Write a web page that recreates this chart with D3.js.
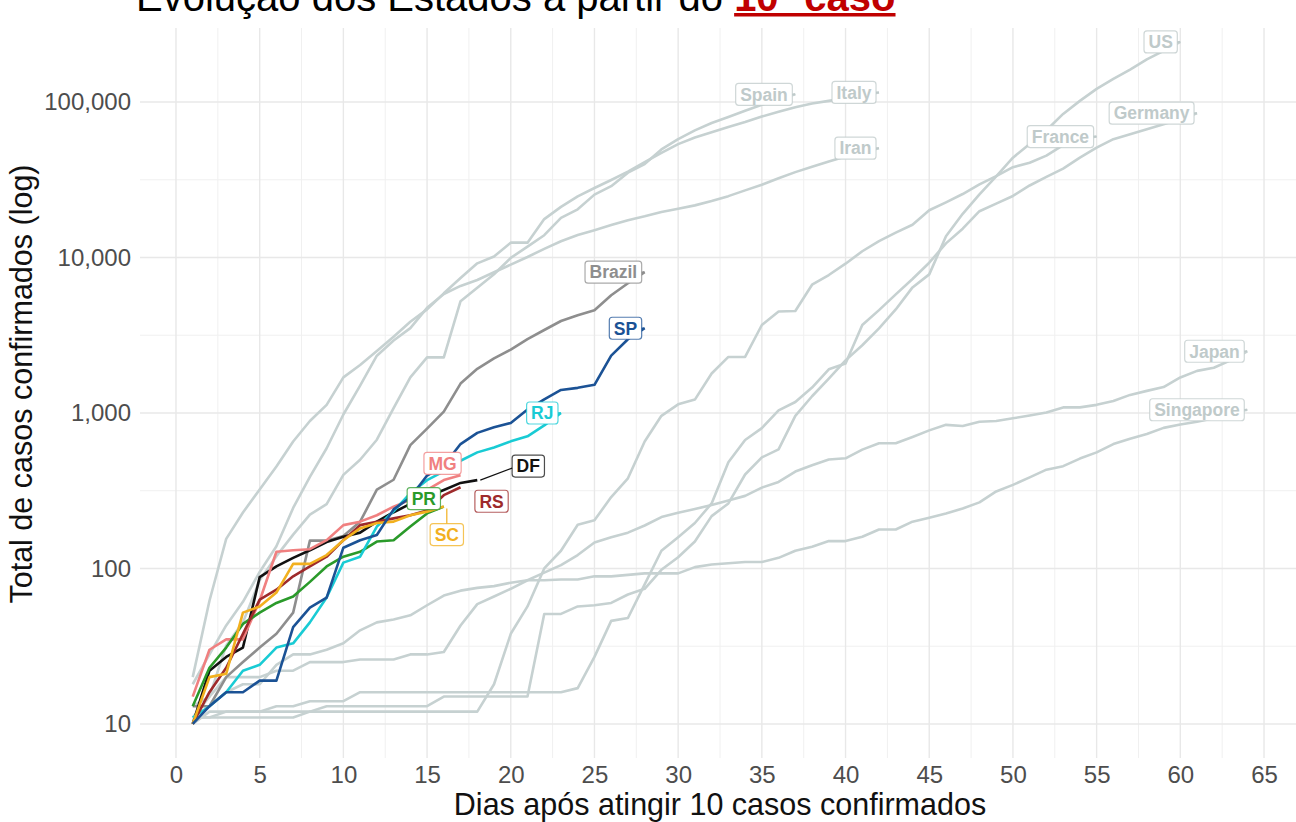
<!DOCTYPE html>
<html lang="pt">
<head>
<meta charset="UTF-8">
<script src="https://d3js.org/d3.v7.min.js"></script>
<style>
  body { margin: 0; background: #fff; }
  svg { display: block; font-family: "Liberation Sans", Arial, sans-serif; }
</style>
</head>
<body>
<svg id="chart" width="1296" height="822"></svg>
<script>
// casos confirmados acumulados, dia 1 = primeiro dia com 10+ casos
var usCases = [11,11,12,12,12,12,12,12,13,13,13,13,13,13,13,15,15,15,15,15,15,51,51,57,58,60,68,
  74,98,118,149,217,262,402,518,583,959,1281,1663,2179,2727,3499,4632,6421,7786,13680,19101,
  25493,33276,43847,53740,65778,83836,101657,121478,140886,161807,188172,213242,243622];
var spainCases = [13,15,32,45,84,120,165,222,259,400,500,673,1073,1695,2277,2277,5232,6391,7798,
  9942,11748,13910,17963,20410,25374,28768,35136,39885,49515,57786,65719,73235,80110,87956,
  95923,104118,112065];
var italyCases = [20,62,155,229,322,453,655,888,1128,1694,2036,2502,3089,3858,4636,5883,7375,
  9172,10149,12462,12462,17660,21157,24747,27980,31506,35713,41035,47021,53578,59138,63927,
  69176,74386,80589,86498,92472,97689,101739,105792,110574,115242];
var iranCases = [18,28,43,61,95,139,245,388,593,978,1501,2336,2922,3513,4747,5823,6566,7161,
  8042,9000,10075,11364,12729,13938,14991,16169,17361,18407,19644,20610,21638,23049,24811,
  27017,29406,32332,35408,38309,41495,44605,47593,50468];
var franceCases = [11,11,11,11,11,11,11,12,12,12,12,12,12,12,12,12,12,12,18,38,57,100,
  130,191,204,288,380,656,959,1136,1219,1794,2293,2293,3681,4496,4532,6683,7715,9124,10970,
  12758,14463,16243,20123,22622,25600,29551,33402,38105,40708,45170,52827,57749,59929];
var germanyCases = [10,12,12,12,12,13,13,14,14,14,16,16,16,16,16,16,16,16,16,16,16,16,16,
  17,27,46,48,79,130,159,196,262,482,670,799,1040,1176,1457,1908,2078,3675,4585,5795,7272,
  9257,12327,15320,19848,22213,24873,29056,32986,37323,43938,50871,57695,62095,66885,71808,
  77872,84794];
var japanCases = [11,15,20,20,20,22,22,25,25,25,26,26,26,28,28,29,43,59,66,74,84,94,105,122,
  147,159,170,189,214,228,241,256,274,293,331,360,420,461,502,511,581,639,639,701,773,839,
  825,878,889,924,963,1007,1086,1086,1128,1193,1307,1387,1468,1693,1866,1953,2178,2495];
var singaporeCases = [10,13,16,18,18,24,28,28,30,33,40,45,47,50,58,67,72,75,77,81,84,84,85,
  85,89,89,91,93,93,93,102,106,108,110,110,117,130,138,150,150,160,178,178,200,212,226,243,
  266,313,345,385,432,455,509,558,631,683,732,802,844,879,926,1000,1049];
var brazilCases = [13,13,20,25,31,38,52,151,151,162,200,321,372,621,793,1021,1546,1924,2247,
  2554,2985,3417,3904,4256,4579,5717,6836,8044];

var dfCases = [10,22,27,31,88,103,117,131,148,160,170,200,230,260,290,320,355,370];
var mgCases = [15,30,35,35,62,128,131,133,152,190,200,220,250,276,320,370,397];
var prCases = [13,23,31,44,52,60,66,82,103,119,128,149,152,186,226,250];
var rjCases = [11,13,16,22,24,31,33,45,65,109,119,186,233,305,370,421,493,558,600,657,708,832,1000];
var rsCases = [10,16,23,38,63,73,89,103,119,152,190,200,210,220,236,296,333];
var scCases = [10,20,21,52,57,70,107,107,122,152,181,196,200,220,232,250];
var spCases = [10,13,16,16,19,19,42,56,65,136,152,164,240,286,396,459,631,745,810,862,1052,
  1223,1406,1451,1517,2339,2981,3506];

var countries = [
  { name: "US", values: usCases },
  { name: "Spain", values: spainCases },
  { name: "Italy", values: italyCases },
  { name: "Iran", values: iranCases },
  { name: "France", values: franceCases },
  { name: "Germany", values: germanyCases },
  { name: "Japan", values: japanCases },
  { name: "Singapore", values: singaporeCases },
  { name: "Brazil", values: brazilCases }
];
var states = [
  { name: "DF", values: dfCases, color: "#111111" },
  { name: "MG", values: mgCases, color: "#f08080" },
  { name: "PR", values: prCases, color: "#2a9a2a" },
  { name: "RJ", values: rjCases, color: "#19cbd4" },
  { name: "RS", values: rsCases, color: "#9e2a2b" },
  { name: "SC", values: scCases, color: "#f2b01e" },
  { name: "SP", values: spCases, color: "#1b5295" }
];

var xTicks = d3.range(0, 66, 5);
var yTicks = [10, 100, 1000, 10000, 100000];

// rótulos repelidos (deslocamento em px a partir do último ponto)
var labelOffsets = {
  MG: [-18, -12],
  DF: [51, -14],
  RS: [31, 14],
  PR: [-20, -8],
  SC: [3, 28]
};
var labelSegments = { DF: "left", SC: "top" };

var greyLine = "#c6d1d1";
var greyText = "#bfcaca";
var brazilColor = "#8e8e8e";

var svg = d3.select("#chart");
var plotL = 140, plotR = 1300, plotT = 28, plotB = 758;

var x = d3.scaleLinear().domain([-2.15, 67.15]).range([plotL, plotR]);
var y = d3.scaleLog().domain([Math.pow(10, 0.781), Math.pow(10, 5.476)]).range([plotB, plotT]);

// grade
var grid = svg.append("g");
var xMinor = d3.range(2.5, 67, 5);
var yMinor = [1.5, 2.5, 3.5, 4.5].map(function (e) { return Math.pow(10, e); });

grid.selectAll("line.xminor").data(xMinor).enter().append("line")
  .attr("x1", function (d) { return x(d); }).attr("x2", function (d) { return x(d); })
  .attr("y1", plotT).attr("y2", plotB)
  .attr("stroke", "#f0f0f0").attr("stroke-width", 1);
grid.selectAll("line.yminor").data(yMinor).enter().append("line")
  .attr("x1", plotL).attr("x2", plotR)
  .attr("y1", function (d) { return y(d); }).attr("y2", function (d) { return y(d); })
  .attr("stroke", "#f0f0f0").attr("stroke-width", 1);
grid.selectAll("line.xmajor").data(xTicks).enter().append("line")
  .attr("x1", function (d) { return x(d); }).attr("x2", function (d) { return x(d); })
  .attr("y1", plotT).attr("y2", plotB)
  .attr("stroke", "#e8e8e8").attr("stroke-width", 1.4);
grid.selectAll("line.ymajor").data(yTicks).enter().append("line")
  .attr("x1", plotL).attr("x2", plotR)
  .attr("y1", function (d) { return y(d); }).attr("y2", function (d) { return y(d); })
  .attr("stroke", "#e8e8e8").attr("stroke-width", 1.4);

// eixos
var xAxis = svg.append("g")
  .attr("transform", "translate(0," + 762 + ")")
  .call(d3.axisBottom(x).tickValues(xTicks).tickSize(0).tickPadding(4));
xAxis.select(".domain").remove();
xAxis.selectAll("text").attr("font-size", 24).attr("fill", "#4d4d4d")
  .attr("font-family", "Liberation Sans, Arial, sans-serif");

var yAxis = svg.append("g")
  .attr("transform", "translate(" + 137 + ",0)")
  .call(d3.axisLeft(y).tickValues(yTicks).tickFormat(d3.format(",")).tickSize(0).tickPadding(6));
yAxis.select(".domain").remove();
yAxis.selectAll("text").attr("font-size", 24).attr("fill", "#4d4d4d")
  .attr("font-family", "Liberation Sans, Arial, sans-serif");

// linhas
var line = d3.line()
  .x(function (d, i) { return x(i + 1); })
  .y(function (d) { return y(d); });

svg.append("g").selectAll("path").data(countries).enter().append("path")
  .attr("d", function (d) { return line(d.values); })
  .attr("fill", "none")
  .attr("stroke", function (d) { return d.name === "Brazil" ? brazilColor : greyLine; })
  .attr("stroke-width", 2.6)
  .attr("stroke-linejoin", "round");

svg.append("g").selectAll("path").data(states).enter().append("path")
  .attr("d", function (d) { return line(d.values); })
  .attr("fill", "none")
  .attr("stroke", function (d) { return d.color; })
  .attr("stroke-width", 2.6)
  .attr("stroke-linejoin", "round");

// rótulos
var labels = svg.append("g");

function addLabel(name, color, values) {
  var n = values.length;
  var ex = x(n), ey = y(values[n - 1]);
  var g = labels.append("g");
  var t = g.append("text")
    .attr("font-size", 17.5).attr("font-weight", "bold")
    .attr("fill", color).text(name);
  var w = t.node().getComputedTextLength() + 9;
  var h = 22;
  var off = labelOffsets[name];
  var cx, cy;
  if (off) {
    cx = ex + off[0]; cy = ey + off[1];
  } else {
    cx = ex - 3 - w / 2; cy = ey;
    g.append("line")
      .attr("x1", ex - 3).attr("x2", ex).attr("y1", ey).attr("y2", ey)
      .attr("stroke", color).attr("stroke-width", 1.5);
  }
  var seg = labelSegments[name];
  if (seg === "left") {
    g.append("line").attr("x1", ex + 3).attr("y1", ey)
      .attr("x2", cx - w / 2).attr("y2", cy + 2)
      .attr("stroke", color).attr("stroke-width", 1.2);
  } else if (seg === "top") {
    g.append("line").attr("x1", ex + 3).attr("y1", ey + 2)
      .attr("x2", ex + 3).attr("y2", cy - h / 2)
      .attr("stroke", color).attr("stroke-width", 1.2);
  }
  g.insert("rect", "text")
    .attr("x", cx - w / 2).attr("y", cy - h / 2)
    .attr("width", w).attr("height", h)
    .attr("rx", 3).attr("fill", "#fff")
    .attr("stroke", color).attr("stroke-opacity", 0.75).attr("stroke-width", 1.2);
  t.attr("x", cx).attr("y", cy + 6.3).attr("text-anchor", "middle");
}

countries.forEach(function (c) {
  addLabel(c.name, c.name === "Brazil" ? brazilColor : greyText, c.values);
});
states.forEach(function (s) { addLabel(s.name, s.color, s.values); });

// títulos dos eixos
svg.append("text")
  .attr("x", 720).attr("y", 815)
  .attr("text-anchor", "middle")
  .attr("font-size", 30.5).attr("fill", "#111")
  .text("Dias após atingir 10 casos confirmados");

svg.append("text")
  .attr("transform", "translate(32,384) rotate(-90)")
  .attr("text-anchor", "middle")
  .attr("font-size", 30.5).attr("fill", "#111")
  .text("Total de casos confirmados (log)");

// título (cortado no topo)
var title = svg.append("text").attr("x", 136).attr("y", 11).attr("font-size", 40).attr("fill", "#000");
title.append("tspan").text("Evolução dos Estados a partir do ");
title.append("tspan").attr("fill", "#c00000").attr("font-weight", "bold").text("10º caso");
var tb = title.node().getBBox();
var redStart = 136 + title.node().getSubStringLength(0, "Evolução dos Estados a partir do ".length);
svg.append("rect")
  .attr("x", redStart).attr("y", 13)
  .attr("width", tb.x + tb.width - redStart).attr("height", 3.5)
  .attr("fill", "#c00000");
</script>
</body>
</html>
